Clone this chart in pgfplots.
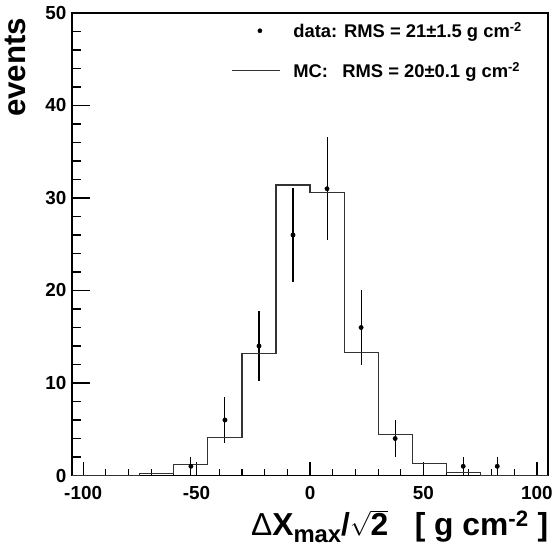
\documentclass[border=0pt]{standalone}
\usepackage{fontspec}
\setmainfont{Liberation Sans}
\usepackage{pgfplots}
\pgfplotsset{compat=1.18}

% data: counts with sqrt(N) errors, MC: normalised histogram (bin width 15)
\begin{document}
\begin{tikzpicture}
\begin{axis}[
  name=ax,
  width=478bp, height=464bp, scale only axis,
  xmin=-105, xmax=105, ymin=0, ymax=50,
  xtick={-100,-50,0,50,100}, minor x tick num=4,
  ytick={0,10,20,30,40,50}, minor y tick num=4,
  tick pos=left, tick align=inside,
  xtick style={/pgfplots/major tick length=14bp, /pgfplots/minor tick length=7bp},
  ytick style={/pgfplots/major tick length=18bp, /pgfplots/minor tick length=9bp},
  every tick/.append style={black, line width=1.2bp},
  axis line style={line width=1.6bp},
  /pgf/number format/assume math mode=true,
  tick label style={font=\fontsize{19}{22}\selectfont\bfseries},
  xticklabel style={yshift=-7bp},
  yticklabel style={xshift=-2bp},
  xlabel={{\mdseries Δ}X{\fontsize{24}{26}\selectfont\raisebox{-0.3em}{max}}/$\sqrt{\mbox{2}}$\ \ \ [ g cm\textsuperscript{-2} ]},
  xlabel style={at={(axis description cs:1,-0.1293)}, anchor=base east, inner sep=0pt,
    font=\fontsize{32}{36}\selectfont\bfseries},
  ylabel={events},
  ylabel style={at={(axis description cs:-0.0973,0.99)}, anchor=base east, inner sep=0pt,
    font=\fontsize{31.5}{36}\selectfont\bfseries},
  legend style={draw=none, fill=none, inner sep=0pt,
    at={(axis description cs:0.3347,0.98)}, anchor=north west,
    font=\fontsize{18.5}{21}\selectfont\bfseries,
    nodes={inner sep=0pt}, column sep=13bp, row sep=23bp},
  legend cell align=left,
]
\addplot[only marks, mark=*, mark size=2.2bp, black,
  legend image code/.code={\fill[black] (28bp,0) circle (2.1bp);},
  error bars/.cd, y dir=both, y explicit, error mark=none,
  error bar style={line width=1.1bp}]
  coordinates {
  (-52.5,1) +- (0,1)
  (-37.5,6) +- (0,2.449)
  (-22.5,14) +- (0,3.742)
  (-7.5,26) +- (0,5.099)
  (7.5,31) +- (0,5.568)
  (22.5,16) +- (0,4)
  (37.5,4) +- (0,2)
  (67.5,1) +- (0,1)
  (82.5,1) +- (0,1)
  };
\addlegendentry{data: RMS = 21±1.5 g cm\textsuperscript{-2}}
\addplot[const plot mark left, black!80, line width=1.1bp, mark=none,
  legend image code/.code={\draw[black!80, line width=1.1bp] (0bp,0bp) -- (48bp,0bp);}]
  coordinates {
  (-105,0) (-90,0.02) (-75,0.25) (-60,1.15) (-45,4.07) (-30,13.2) (-15,31.4)
  (0,30.6) (15,13.3) (30,4.4) (45,1.3) (60,0.36) (75,0.05) (90,0) (105,0)
  };
\addlegendentry{\makebox[2.389em][l]{MC:}\ RMS = 20±0.1 g cm\textsuperscript{-2}}
\end{axis}
\path (ax.south west) ++(-72bp,-79bp) rectangle ++(556bp,556bp);
\end{tikzpicture}
\end{document}
